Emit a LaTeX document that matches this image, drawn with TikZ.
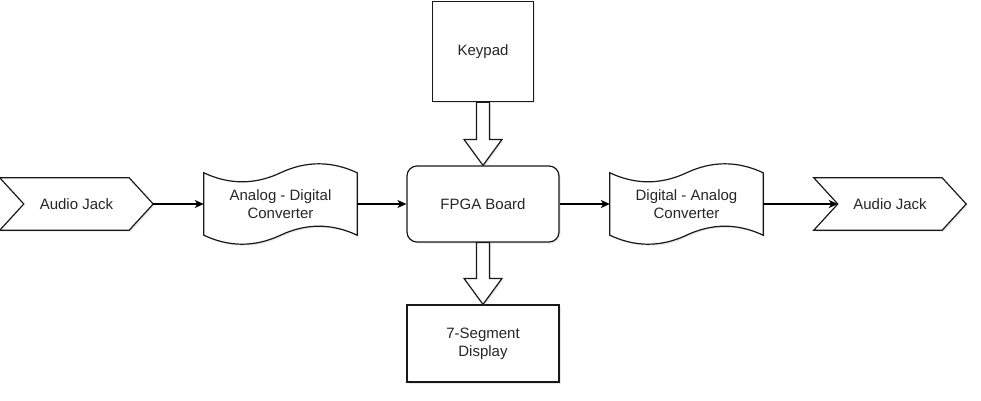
\documentclass[tikz,border=0pt]{standalone}
\usepackage{fontspec}
\setmainfont{Liberation Sans}
\usetikzlibrary{calc, backgrounds, shadows, arrows.meta}

\newcommand{\hollowarrow}[2]{%
  \draw[shp] ($(#1)+(-6.5,0)$) -- ($(#2)+(-6.5,-26)$) -- ($(#2)+(-19,-26)$) -- (#2)
    -- ($(#2)+(19,-26)$) -- ($(#2)+(6.5,-26)$) -- ($(#1)+(6.5,0)$) -- cycle;}
\newcommand{\tapeoutline}[1]{%
  \draw[shp] (#1.north west) .. controls +(25.5,12) and +(-25.5,12) .. (#1.north)
    .. controls +(25.5,-12) and +(-25.5,-12) .. (#1.north east) -- (#1.south east)
    .. controls +(-25.5,-12) and +(25.5,-12) .. (#1.south)
    .. controls +(-25.5,12) and +(25.5,12) .. (#1.south west) -- cycle;}
\newcommand{\jackoutline}[1]{%
  \draw[shp] (#1.north west) -- ([xshift=-24pt]#1.north east) -- (#1.east)
    -- ([xshift=-24pt]#1.south east) -- (#1.south west) -- ([xshift=24pt]#1.west) -- cycle;}

\begin{document}
\begin{tikzpicture}[
          x=1pt,
          y=-1pt,
          font=\fontsize{15}{18}\selectfont,
          shp/.style={line width=1.2pt, draw=black!90, fill=white,
            drop shadow={opacity=0.18, shadow xshift=1.5pt, shadow yshift=-1.5pt}},
          lbl/.style={inner sep=0pt, align=center, text=black!85},
          blk/.style={lbl, shp},
          conn/.style={line width=1.2pt, -{Stealth[length=9pt, width=8pt, inset=2.5pt]}},
        ]
      \useasboundingbox (0,0) rectangle (981,400);
      \node[lbl, minimum width=153, minimum height=52] (jackL) at (76.5,204) {Audio Jack};
      \node[lbl, minimum width=153, minimum height=62] (adc) at (280.5,204) {Analog - Digital\\Converter};
      \node[blk, rounded corners=10pt, minimum width=152, minimum height=76] (fpga) at (483,204) {FPGA Board};
      \node[blk, minimum width=101, minimum height=100.5] (keypad) at (483,51.5) {Keypad};
      \node[blk, minimum width=152, minimum height=77] (seg) at (483,343.5) {7-Segment\\Display};
      \node[lbl, minimum width=153, minimum height=62] (dac) at (686.5,204) {Digital - Analog\\Converter};
      \node[lbl, minimum width=152, minimum height=52] (jackR) at (890,204) {Audio Jack};
      \coordinate (jackRin) at ([xshift=24pt]jackR.west);
      \begin{scope}[on background layer]
        \jackoutline{jackL}
        \tapeoutline{adc}
        \tapeoutline{dac}
        \jackoutline{jackR}
      \end{scope}
      \hollowarrow{keypad.south}{fpga.north}
      \hollowarrow{fpga.south}{seg.north}
      \draw[conn] (jackL.east) -- (adc.west);
      \draw[conn] (adc.east) -- (fpga.west);
      \draw[conn] (fpga.east) -- (dac.west);
      \draw[conn] (dac.east) -- (jackRin);
    \end{tikzpicture}
\end{document}
